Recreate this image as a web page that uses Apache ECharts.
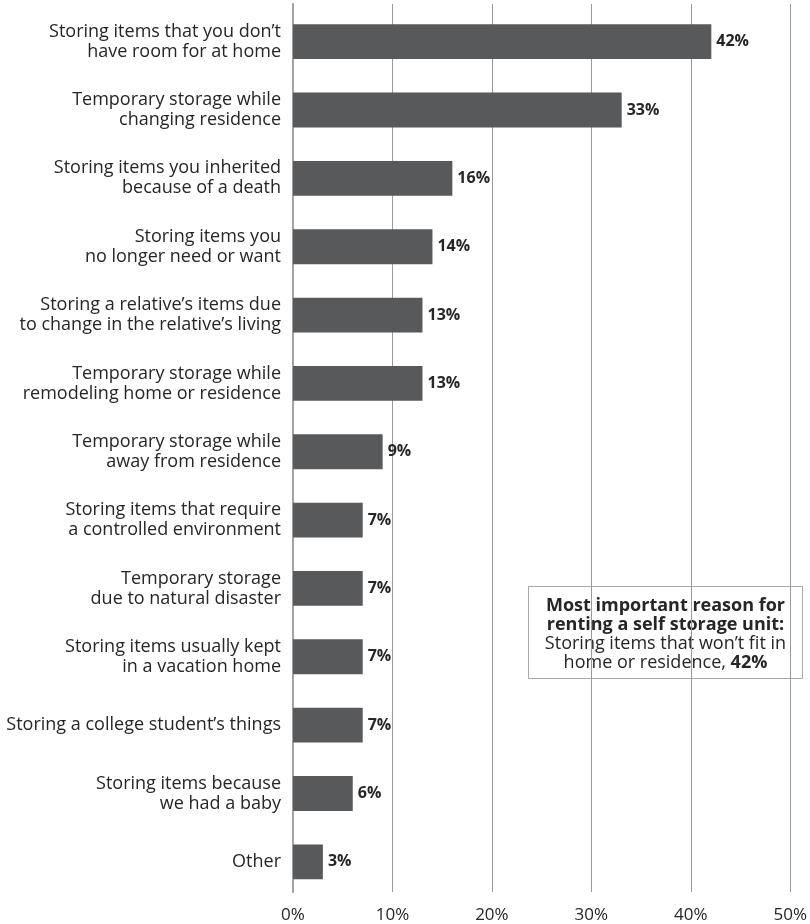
<!DOCTYPE html>
<html>
<head>
<meta charset="utf-8">
<script src="https://cdn.jsdelivr.net/npm/echarts@6/dist/echarts.min.js"></script>
<style>
html,body{margin:0;padding:0;background:#fff;}
#c{width:810px;height:924px;}
</style>
</head>
<body>
<div id="c"></div>
<script>
var categories = [
  "Storing items that you don’t\nhave room for at home",
  "Temporary storage while\nchanging residence",
  "Storing items you inherited\nbecause of a death",
  "Storing items you\nno longer need or want",
  "Storing a relative’s items due\nto change in the relative’s living",
  "Temporary storage while\nremodeling home or residence",
  "Temporary storage while\naway from residence",
  "Storing items that require\na controlled environment",
  "Temporary storage\ndue to natural disaster",
  "Storing items usually kept\nin a vacation home",
  "Storing a college student’s things",
  "Storing items because\nwe had a baby",
  "Other"
];
var values = [42, 33, 16, 14, 13, 13, 9, 7, 7, 7, 7, 6, 3];
var tickValues = [0, 10, 20, 30, 40, 50];

var FONT = '"Open Sans", "Noto Sans", sans-serif';
var TXT = '#262626';
var xMin = tickValues[0], xMax = tickValues[tickValues.length - 1];

var chart = echarts.init(document.getElementById('c'), null, {renderer: 'canvas'});
chart.setOption({
  backgroundColor: '#fff',
  animation: false,
  grid: [
    {left: 293, right: 19, top: 4, bottom: 32, containLabel: false},
    {left: 293, right: 19, top: 7.5, bottom: 28, containLabel: false}
  ],
  xAxis: [{
    type: 'value', gridIndex: 0,
    min: xMin, max: xMax, interval: 10,
    axisLine: {show: false},
    axisTick: {show: false},
    splitLine: {show: true, lineStyle: {color: '#9a9a9a', width: 1}},
    axisLabel: {
      margin: 15,
      fontFamily: FONT,
      fontSize: 17,
      color: TXT,
      formatter: function (v) { return v + '%'; }
    }
  }, {
    type: 'value', gridIndex: 1,
    min: xMin, max: xMax, interval: 10,
    show: false
  }],
  yAxis: [{
    type: 'category', gridIndex: 0,
    inverse: true,
    data: categories,
    axisLine: {show: true, lineStyle: {color: '#a3a3a3', width: 2}},
    axisTick: {show: false},
    axisLabel: {show: false},
    splitLine: {show: false}
  }, {
    type: 'category', gridIndex: 1,
    inverse: true,
    data: categories,
    axisLine: {show: false},
    axisTick: {show: false},
    splitLine: {show: false},
    axisLabel: {
      margin: 12,
      fontFamily: FONT,
      fontSize: 18,
      lineHeight: 20,
      color: TXT,
      align: 'right'
    }
  }],
  series: [{
    type: 'bar',
    xAxisIndex: 1,
    yAxisIndex: 1,
    data: values,
    barCategoryGap: '49%',
    itemStyle: {color: '#58595b'},
    label: {
      show: true,
      position: 'right',
      distance: 5,
      fontFamily: FONT,
      fontSize: 16,
      fontWeight: 'bold',
      color: TXT,
      formatter: function (p) { return p.value + '%'; }
    }
  }],
  graphic: [{
    type: 'group',
    z: 100,
    children: [{
      type: 'rect',
      shape: {x: 528.5, y: 586.5, width: 274, height: 92},
      style: {fill: '#fff', stroke: '#a8a8a8', lineWidth: 1}
    }, {
      type: 'text',
      x: 665.5,
      y: 634,
      style: {
        text: '{b|Most important reason for}\n{b|renting a self storage unit:}\n{n|Storing items that won’t fit in}\n{n|home or residence, }{b|42%}',
        align: 'center',
        verticalAlign: 'middle',
        fontFamily: FONT,
        fontSize: 18,
        lineHeight: 19,
        fill: TXT,
        rich: {
          b: {fontFamily: FONT, fontSize: 18, fontWeight: 'bold', lineHeight: 19, fill: TXT, color: TXT},
          n: {fontFamily: FONT, fontSize: 18, lineHeight: 19, fill: TXT, color: TXT}
        }
      }
    }]
  }]
});
</script>
</body>
</html>
